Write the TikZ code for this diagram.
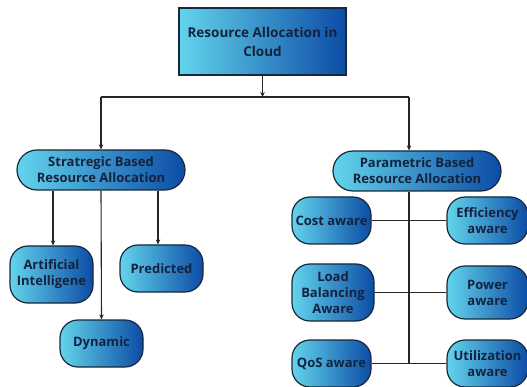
\documentclass[tikz,border=0pt]{standalone}
\usepackage{fontspec}
\setmainfont{Open Sans}
\usetikzlibrary{arrows.meta}
\definecolor{gradL}{HTML}{63D4EC}
\definecolor{gradR}{HTML}{0C4CA6}
\definecolor{inkC}{HTML}{14223E}
\definecolor{edgeC}{HTML}{16283A}
\begin{document}
\begin{tikzpicture}[x=1pt,y=-1pt,
  box/.style={draw=edgeC, line width=1.2pt, left color=gradL, right color=gradR,
    text=inkC, font=\bfseries\fontsize{13}{16}\selectfont, align=center,
    inner sep=0pt, rounded corners=18pt},
  link/.style={draw=black!85, line width=1.1pt},
  arr/.style={link, -{Stealth[length=5pt,width=4.5pt]}}]
\useasboundingbox (0,0) rectangle (527,387);
\clip (0,0) rectangle (527,387);
% root
\node[box, rounded corners=0pt, minimum width=167pt, minimum height=67pt,
  font=\bfseries\fontsize{13.5}{19}\selectfont] (root) at (262.5,41.5)
  {Resource Allocation in\\Cloud};
% second level
\node[box, rounded corners=20pt, minimum width=168pt, minimum height=40pt] (strat) at (101,170)
  {Stratregic Based\\Resource Allocation};
\node[box, rounded corners=20pt, minimum width=168pt, minimum height=40pt] (param) at (417,171)
  {Parametric Based\\Resource Allocation};
% strategic children
\node[box, minimum width=83pt, minimum height=57pt] (ai) at (51.5,274.5) {Artificial\\Intelligene};
\node[box, minimum width=83pt, minimum height=47pt] (pred) at (161.5,268.5) {Predicted};
\node[box, minimum width=83pt, minimum height=47pt] (dyn) at (101.5,343.5) {Dynamic};
% parametric children
\node[box, minimum width=79pt, minimum height=47pt] (cost) at (331.5,220.5) {Cost aware};
\node[box, minimum width=81pt, minimum height=47pt] (eff) at (487.5,220.5) {Efficiency\\aware};
\node[box, minimum width=82pt, minimum height=57pt] (lb) at (333,292.5) {Load\\Balancing\\Aware};
\node[box, minimum width=81pt, minimum height=53pt] (pow) at (487.5,292.5) {Power\\aware};
\node[box, minimum width=79pt, minimum height=47pt] (qos) at (331.5,363.5) {QoS aware};
\node[box, minimum width=81pt, minimum height=47pt] (util) at (487.5,363.5) {Utilization\\aware};
% top-level bus
\coordinate (busL) at (101,97);
\coordinate (busR) at (409,97);
\draw[arr] (root.south) -- (root.south |- busL);
\draw[link] (busL) -- (busR);
\draw[arr] (busL) -- (strat.north);
\draw[arr] (busR) -- (busR |- param.north);
% strategic branches
\draw[arr] ([xshift=1.5pt]ai.north |- strat.south) -- ([xshift=1.5pt]ai.north);
\draw[arr] ([xshift=-3.5pt]pred.north |- strat.south) -- ([xshift=-3.5pt]pred.north);
\draw[arr] (strat.south) -- (dyn.north);
% parametric trunk and rungs
\coordinate (trunkEnd) at (409,363.5);
\draw[link] (busR |- param.south) -- (trunkEnd);
\draw[link] (cost.east) -- (eff.west);
\draw[link] (lb.east) -- (pow.west);
\draw[link] (qos.east) -- (util.west);
\end{tikzpicture}
\end{document}
